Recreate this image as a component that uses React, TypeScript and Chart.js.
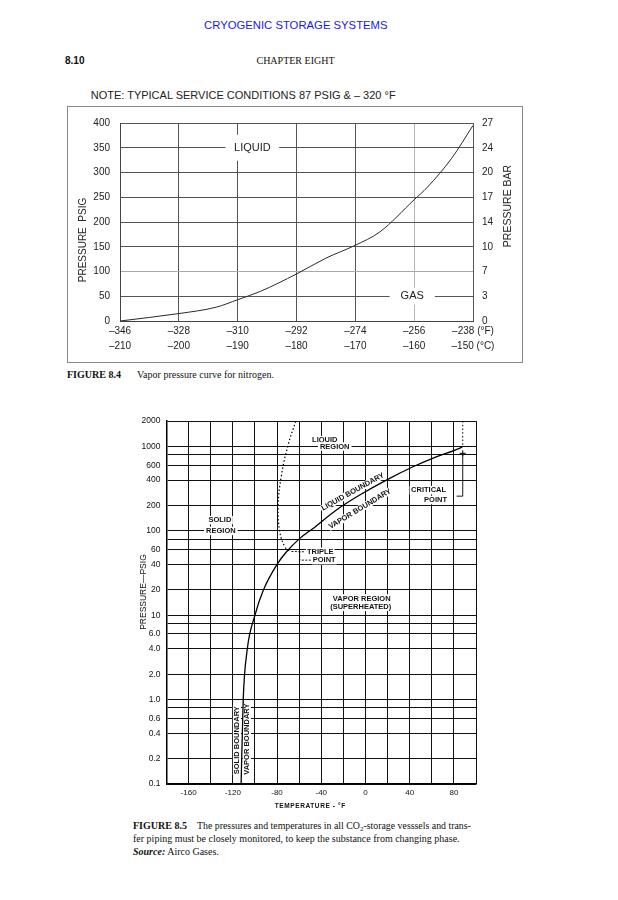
import React, { useEffect, useRef } from 'react';
import { Chart, registerables } from 'chart.js';

Chart.register(...registerables);

const SANS = '"Liberation Sans", Arial, Helvetica, sans-serif';
const SERIF = '"Liberation Serif", "Times New Roman", serif';
Chart.defaults.font.family = SANS;

// ---------- FIGURE 8.4 : nitrogen vapor pressure ----------
const N2_TEMP_F = [-346, -328, -316.5, -310, -303, -292, -283, -274, -266.5, -256, -252, -244.5, -238];
const N2_PSIG = [0, 15, 28, 43, 60, 95, 127, 153, 180, 245, 270, 329, 395];
const F_TICKS = [-346, -328, -310, -292, -274, -256, -238];
const F_LABELS = ['–346', '–328', '–310', '–292', '–274', '–256', '–238 (°F)'];
const C_LABELS = ['–210', '–200', '–190', '–180', '–170', '–160', '–150 (°C)'];
const PSIG_TICKS = [0, 50, 100, 150, 200, 250, 300, 350, 400];
const BAR_LABELS = ['0', '3', '7', '10', '14', '17', '20', '24', '27'];

// ---------- FIGURE 8.5 : CO2 phase diagram ----------
const CO2_VAPOR_F = [-112.5, -110.6, -107, -100, -92.6, -80, -71.4, -59.4, -47.4, -26.3, -5.2, 18.9, 43, 64, 85, 88];
const CO2_VAPOR_PSIG = [0.1, 1.0, 3.9, 10, 19.5, 40, 56.5, 81.5, 107, 177, 266, 400, 575, 755, 950, 1000];
const CO2_MELT_F = [-69, -73, -77.5, -79, -76, -70, -63];
const CO2_MELT_PSIG = [58, 65, 97, 200, 458, 1040, 2000];
const CRIT_GUIDE_F = [88, 88, 100];
const CRIT_GUIDE_PSIG = [2000, 1000, 1000];
const CRIT_LEADER_F = [82.4, 88, 88];
const CRIT_LEADER_PSIG = [258, 258, 800];
const CRIT_MARK_F = [88];
const CRIT_MARK_PSIG = [830];
const TRIPLE_LEADER_A_F = [-67, -55];
const TRIPLE_LEADER_A_PSIG = [57, 56.5];
const TRIPLE_LEADER_B_F = [-59.5, -59.5, -49];
const TRIPLE_LEADER_B_PSIG = [56.5, 45, 45];
const TEMP_GRID = [-180, -160, -140, -120, -100, -80, -60, -40, -20, 0, 20, 40, 60, 80, 100];
const TEMP_LABELED = [-160, -120, -80, -40, 0, 40, 80];
const LOG_GRID = [0.1, 0.2, 0.4, 0.6, 0.8, 1, 2, 4, 6, 8, 10, 20, 40, 60, 80, 100, 200, 400, 600, 800, 1000, 2000];
const LOG_LABEL_VALUES = [0.1, 0.2, 0.4, 0.6, 1, 2, 4, 6, 10, 20, 40, 60, 100, 200, 400, 600, 1000, 2000];
const LOG_LABEL_TEXT = ['0.1', '0.2', '0.4', '0.6', '1.0', '2.0', '4.0', '6.0', '10', '20', '40', '60', '100', '200', '400', '600', '1000', '2000'];

type Lbl = {
  text: string; x: number; y: number; size: number; bold?: boolean;
  align?: CanvasTextAlign; rot?: number; bg?: boolean; padX?: number; padY?: number; color?: string;
};

const N2_LABELS: Lbl[] = [
  { text: 'LIQUID', x: -305.5, y: 350, size: 11, bg: true, padX: 8.5, padY: 7.5, color: '#222' },
  { text: 'GAS', x: -256.6, y: 50, size: 11, bg: true, padX: 11, padY: 3, color: '#222' },
];

const CO2_LABELS: Lbl[] = [
  { text: 'LIQUID', x: -36.8, y: 1190, size: 7.5, bold: true, bg: true, padX: 1.5, padY: 0.5 },
  { text: 'REGION', x: -27.8, y: 1000, size: 7.5, bold: true, bg: true, padX: 2, padY: 0.5 },
  { text: 'SOLID', x: -131.7, y: 134, size: 7.5, bold: true, bg: true, padX: 1.5, padY: 0.5 },
  { text: 'REGION', x: -130.8, y: 100, size: 7.5, bold: true, bg: true, padX: 2, padY: 0.5 },
  { text: 'TRIPLE', x: -53, y: 56.5, size: 7.5, bold: true, align: 'left', bg: true, padX: 1, padY: 0.5 },
  { text: 'POINT', x: -47.7, y: 45, size: 7.5, bold: true, align: 'left', bg: true, padX: 1, padY: 0.5 },
  { text: 'VAPOR REGION', x: -3.4, y: 15.8, size: 7.5, bold: true, bg: true, padX: 1.5, padY: 0.5 },
  { text: '(SUPERHEATED)', x: -4.3, y: 12.6, size: 7.5, bold: true, bg: true, padX: 1.5, padY: 0.5 },
  { text: 'CRITICAL', x: 57.1, y: 304, size: 7.5, bold: true, bg: true, padX: 1.5, padY: 0.5 },
  { text: 'POINT', x: 63.4, y: 232, size: 7.5, bold: true, bg: true, padX: 1.5, padY: 0.5 },
  { text: 'LIQUID BOUNDARY', x: -11.5, y: 290, size: 7.5, bold: true, rot: -29, bg: true, padX: 1, padY: 0 },
  { text: 'VAPOR BOUNDARY', x: -5, y: 182, size: 7.5, bold: true, rot: -31, bg: true, padX: 1, padY: 0 },
  { text: 'SOLID BOUNDARY', x: -116.3, y: 0.33, size: 7.5, bold: true, rot: -90, bg: true, padX: 1, padY: 0.3 },
  { text: 'VAPOR BOUNDARY', x: -107.3, y: 0.34, size: 7.5, bold: true, rot: -90, bg: true, padX: 1, padY: 0.3 },
];

function labelPlugin(id: string, labels: Lbl[], titles: (chart: any) => void) {
  return {
    id,
    beforeDatasetsDraw(chart: any) {
      const ctx: CanvasRenderingContext2D = chart.ctx;
      const xs = chart.scales.x;
      const ys = chart.scales.y;
      labels.forEach((l) => {
        const px = xs.getPixelForValue(l.x);
        const py = ys.getPixelForValue(l.y);
        ctx.save();
        ctx.translate(px, py);
        ctx.rotate(((l.rot || 0) * Math.PI) / 180);
        ctx.font = `${l.bold ? 'bold ' : ''}${l.size}px ${SANS}`;
        const align = l.align || 'center';
        ctx.textAlign = align;
        ctx.textBaseline = 'middle';
        const w = ctx.measureText(l.text).width;
        const x0 = align === 'left' ? 0 : align === 'right' ? -w : -w / 2;
        if (l.bg) {
          const padX = l.padX || 0;
          const padY = l.padY || 0;
          ctx.fillStyle = '#ffffff';
          ctx.fillRect(x0 - padX, -l.size / 2 - padY, w + 2 * padX, l.size + 2 * padY);
        }
        ctx.fillStyle = l.color || '#111';
        ctx.fillText(l.text, 0, 0);
        ctx.restore();
      });
    },
    afterDraw(chart: any) {
      titles(chart);
    },
  };
}

function drawText(ctx: CanvasRenderingContext2D, text: string, x: number, y: number, font: string, rot: number, color: string, spacing?: string) {
  ctx.save();
  ctx.translate(x, y);
  ctx.rotate(rot);
  ctx.font = font;
  (ctx as any).letterSpacing = spacing || '0px';
  ctx.textAlign = 'center';
  ctx.textBaseline = 'middle';
  ctx.fillStyle = color;
  ctx.fillText(text, 0, 0);
  ctx.restore();
}

function NitrogenChart() {
  const ref = useRef<HTMLCanvasElement>(null);
  useEffect(() => {
    if (!ref.current) return;
    const plugin = labelPlugin('n2labels', N2_LABELS, (chart: any) => {
      const a = chart.chartArea;
      const cy = (a.top + a.bottom) / 2;
      drawText(chart.ctx, 'PRESSURE  PSIG', a.left - 37, cy + 18, `10px ${SANS}`, -Math.PI / 2, '#222');
      drawText(chart.ctx, 'PRESSURE BAR', a.right + 35, cy - 16, `10.5px ${SANS}`, -Math.PI / 2, '#222');
    });
    const chart = new Chart(ref.current, {
      type: 'line',
      data: {
        datasets: [
          {
            data: N2_TEMP_F.map((f, i) => ({ x: f, y: N2_PSIG[i] })),
            borderColor: '#2a2a2a',
            borderWidth: 1,
            pointRadius: 0,
            cubicInterpolationMode: 'monotone',
            fill: false,
          },
        ],
      },
      options: {
        responsive: false,
        animation: false,
        devicePixelRatio: 1,
        layout: { padding: { top: 17, left: 0, right: 0, bottom: 0 } },
        plugins: { legend: { display: false }, tooltip: { enabled: false } },
        scales: {
          x: {
            type: 'linear',
            min: -346,
            max: -238,
            afterBuildTicks: (s: any) => { s.ticks = F_TICKS.map((v) => ({ value: v })); },
            afterFit: (s: any) => { s.height = 42; },
            grid: {
              color: (c: any) => (c.tick && c.tick.value === -256 ? '#b4b4b4' : '#555'),
              lineWidth: 1,
              drawTicks: false,
            },
            border: { color: '#444', width: 1 },
            ticks: {
              padding: 3,
              autoSkip: false,
              maxRotation: 0,
              color: '#222',
              font: { size: 10, lineHeight: 1.5 },
              callback: (_v: any, i: number) => [F_LABELS[i], C_LABELS[i]],
            },
          },
          y: {
            type: 'linear',
            position: 'left',
            min: 0,
            max: 400,
            afterBuildTicks: (s: any) => { s.ticks = PSIG_TICKS.map((v) => ({ value: v })); },
            afterFit: (s: any) => { s.width = 53; },
            grid: {
              color: (c: any) => (c.tick && c.tick.value === 100 ? '#a8a8a8' : '#555'),
              lineWidth: 1,
              drawTicks: false,
            },
            border: { color: '#444', width: 1 },
            ticks: { padding: 10, color: '#222', font: { size: 10 }, callback: (v: any) => String(v) },
          },
          y2: {
            type: 'linear',
            position: 'right',
            min: 0,
            max: 400,
            afterBuildTicks: (s: any) => { s.ticks = PSIG_TICKS.map((v) => ({ value: v })); },
            afterFit: (s: any) => { s.width = 50; },
            grid: { drawOnChartArea: false, drawTicks: false },
            border: { display: false },
            ticks: { padding: 9, color: '#222', font: { size: 10 }, callback: (_v: any, i: number) => BAR_LABELS[i] },
          },
        },
      } as any,
      plugins: [plugin],
    });
    return () => chart.destroy();
  }, []);
  return (
    <canvas ref={ref} width={456} height={257} style={{ position: 'absolute', left: 67, top: 106 }} />
  );
}

function CO2Chart() {
  const ref = useRef<HTMLCanvasElement>(null);
  useEffect(() => {
    if (!ref.current) return;
    const plugin = labelPlugin('co2labels', CO2_LABELS, (chart: any) => {
      const a = chart.chartArea;
      const cy = (a.top + a.bottom) / 2;
      const cx = (a.left + a.right) / 2;
      drawText(chart.ctx, 'PRESSURE—PSIG', a.left - 22.5, cy - 10.5, `8.5px ${SANS}`, -Math.PI / 2, '#111');
      drawText(chart.ctx, 'TEMPERATURE - °F', cx - 11, a.bottom + 22, `bold 6.5px ${SANS}`, 0, '#111', '0.6px');
    });
    const pts = (xs: number[], ys: number[]) => xs.map((x, i) => ({ x, y: ys[i] }));
    const chart = new Chart(ref.current, {
      type: 'line',
      data: {
        datasets: [
          {
            data: pts(CO2_VAPOR_F, CO2_VAPOR_PSIG),
            borderColor: '#000',
            borderWidth: 1.3,
            pointRadius: 0,
            cubicInterpolationMode: 'monotone',
          },
          {
            data: pts(CO2_MELT_F, CO2_MELT_PSIG),
            borderColor: '#000',
            borderWidth: 1.2,
            borderDash: [1.5, 2.2],
            pointRadius: 0,
            tension: 0.4,
          },
          {
            data: pts(CRIT_GUIDE_F, CRIT_GUIDE_PSIG),
            borderColor: '#000',
            borderWidth: 1,
            borderDash: [1.5, 2.2],
            pointRadius: 0,
          },
          {
            data: pts(CRIT_LEADER_F, CRIT_LEADER_PSIG),
            borderColor: '#000',
            borderWidth: 0.9,
            pointRadius: 0,
          },
          {
            data: pts(CRIT_MARK_F, CRIT_MARK_PSIG),
            borderColor: '#000',
            borderWidth: 1,
            showLine: false,
            pointStyle: 'cross',
            pointRadius: 3,
          },
          {
            data: pts(TRIPLE_LEADER_A_F, TRIPLE_LEADER_A_PSIG),
            borderColor: '#000',
            borderWidth: 0.9,
            borderDash: [2, 1.5],
            pointRadius: 0,
          },
          {
            data: pts(TRIPLE_LEADER_B_F, TRIPLE_LEADER_B_PSIG),
            borderColor: '#000',
            borderWidth: 0.9,
            borderDash: [2, 1.5],
            pointRadius: 0,
          },
        ],
      },
      options: {
        responsive: false,
        animation: false,
        devicePixelRatio: 1,
        layout: { padding: { top: 11, left: 0, right: 14, bottom: 0 } },
        plugins: { legend: { display: false }, tooltip: { enabled: false } },
        scales: {
          x: {
            type: 'linear',
            min: -180,
            max: 100,
            afterBuildTicks: (s: any) => { s.ticks = TEMP_GRID.map((v) => ({ value: v })); },
            afterFit: (s: any) => { s.height = 31; },
            grid: { color: '#111', lineWidth: 1, drawTicks: false },
            border: { color: '#000', width: 1.5 },
            ticks: {
              padding: 4,
              autoSkip: false,
              maxRotation: 0,
              color: '#111',
              font: { size: 8 },
              callback: (v: any) => (TEMP_LABELED.includes(v) ? String(v) : ''),
            },
          },
          y: {
            type: 'logarithmic',
            min: 0.1,
            max: 2000,
            afterBuildTicks: (s: any) => { s.ticks = LOG_GRID.map((v) => ({ value: v })); },
            afterFit: (s: any) => { s.width = 46.5; },
            grid: { color: '#111', lineWidth: 1, drawTicks: false },
            border: { color: '#000', width: 1.5 },
            ticks: {
              padding: 6,
              autoSkip: false,
              color: '#111',
              font: { size: 8.5 },
              callback: (v: any) => {
                const i = LOG_LABEL_VALUES.indexOf(v);
                return i >= 0 ? LOG_LABEL_TEXT[i] : '';
              },
            },
          },
        },
      } as any,
      plugins: [plugin],
    });
    return () => chart.destroy();
  }, []);
  return (
    <canvas ref={ref} width={370} height={405} style={{ position: 'absolute', left: 120, top: 410 }} />
  );
}

export default function App() {
  const abs = (l: number, t: number, extra: React.CSSProperties = {}): React.CSSProperties => ({
    position: 'absolute',
    left: l,
    top: t,
    whiteSpace: 'nowrap',
    ...extra,
  });
  return (
    <div style={{ position: 'absolute', left: 0, top: 0, width: 618, height: 900, background: '#fff', color: '#111', overflow: 'hidden' }}>
      <div style={abs(145.8, 18, { width: 300, textAlign: 'center', fontFamily: SANS, fontSize: 11.3, lineHeight: '14px', color: '#1a1ae6' })}>
        CRYOGENIC STORAGE SYSTEMS
      </div>
      <div style={abs(65, 54, { fontFamily: SANS, fontWeight: 'bold', fontSize: 10, lineHeight: '14px' })}>8.10</div>
      <div style={abs(195.5, 54, { width: 200, textAlign: 'center', fontFamily: SERIF, fontSize: 10, lineHeight: '14px' })}>
        CHAPTER EIGHT
      </div>
      <div style={abs(90.7, 88, { fontFamily: SANS, fontSize: 11, lineHeight: '14px', color: '#222' })}>
        NOTE: TYPICAL SERVICE CONDITIONS 87 PSIG &amp; – 320 °F
      </div>
      <div style={abs(67, 106, { width: 456, height: 257, border: '1px solid #888', boxSizing: 'border-box' })} />
      <NitrogenChart />
      <div style={abs(67, 368, { fontFamily: SERIF, fontSize: 10, lineHeight: '14px' })}>
        <span style={{ display: 'inline-block', width: 70, fontWeight: 'bold' }}>FIGURE 8.4</span>
        Vapor pressure curve for nitrogen.
      </div>
      <CO2Chart />
      <div style={abs(133, 819, { fontFamily: SERIF, fontSize: 10, lineHeight: '14px', fontWeight: 'bold' })}>FIGURE 8.5</div>
      <div style={abs(197, 819, { fontFamily: SERIF, fontSize: 9.85, lineHeight: '14px' })}>
        The pressures and temperatures in all CO<sub style={{ fontSize: 7, verticalAlign: '-2px', lineHeight: 0 }}>2</sub>-storage vesssels and trans-
      </div>
      <div style={abs(133, 832, { fontFamily: SERIF, fontSize: 10, lineHeight: '14px' })}>
        fer piping must be closely monitored, to keep the substance from changing phase.
      </div>
      <div style={abs(133, 845, { fontFamily: SERIF, fontSize: 10, lineHeight: '14px' })}>
        <b><i>Source:</i></b> Airco Gases.
      </div>
    </div>
  );
}
